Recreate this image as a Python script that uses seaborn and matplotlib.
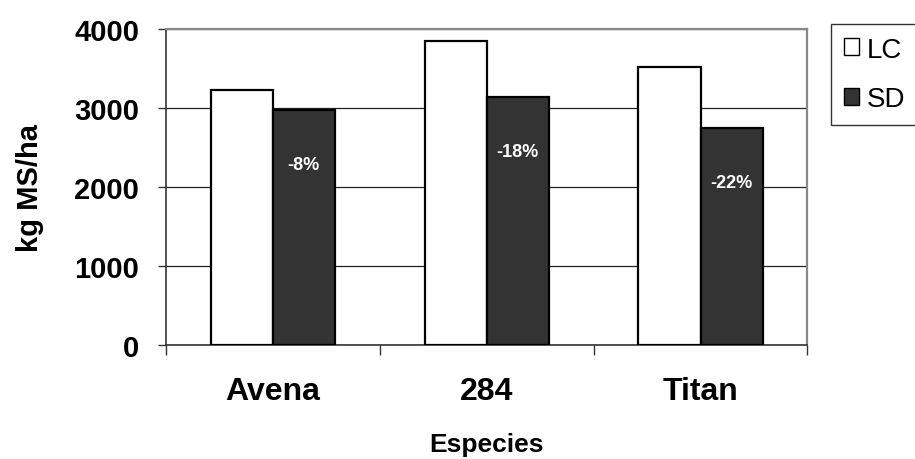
import matplotlib
matplotlib.use("Agg")
import matplotlib.pyplot as plt
import matplotlib.patches as mpatches
import seaborn as sns
import pandas as pd

# Forage dry-matter yield per species, two treatments
especies = ["Avena", "284", "Titan"]
lc_vals = [3230, 3850, 3520]
sd_vals = [2970, 3140, 2750]
diff_labels = ["-8%", "-18%", "-22%"]
treatments = ["LC", "SD"]
y_ticks = [0, 1000, 2000, 3000, 4000]

df = pd.DataFrame({
    "Especie": especies * 2,
    "kg": lc_vals + sd_vals,
    "Trat": [treatments[0]] * len(especies) + [treatments[1]] * len(especies),
})

sns.set_theme(style="white")
plt.rcParams["font.family"] = ["Liberation Sans", "DejaVu Sans"]
plt.rcParams["text.color"] = "black"
plt.rcParams["axes.labelcolor"] = "black"

fig = plt.figure(figsize=(9.15, 4.6), dpi=100)
ax = fig.add_axes([0.1811, 0.2478, 0.7014, 0.687])

colors = {"LC": "white", "SD": "#333333"}
sns.barplot(data=df, x="Especie", y="kg", hue="Trat", order=especies,
            hue_order=treatments, palette=colors, edgecolor="black",
            linewidth=1.6, width=0.58, legend=False, ax=ax, zorder=3)

ax.set_xlim(-0.5, len(especies) - 0.5)
ax.set_ylim(0, 4000)
ax.set_yticks(y_ticks)
ax.set_yticklabels([str(v) for v in y_ticks], fontsize=21, fontweight="bold")
ax.set_xticks(range(len(especies)))
ax.set_xticklabels(especies, fontsize=23, fontweight="bold")
ax.set_xticks([i - 0.5 for i in range(len(especies) + 1)], minor=True)
ax.tick_params(axis="x", which="major", length=0, pad=22, labelcolor="black")
ax.tick_params(axis="x", which="minor", length=7, width=1, color="#333333",
               direction="out", bottom=True)
ax.tick_params(axis="y", length=6, width=1, color="#333333", direction="out",
               left=True, pad=13, labelcolor="black")

ax.yaxis.grid(True, color="#222222", linewidth=0.9)
ax.xaxis.grid(False)
ax.set_axisbelow(True)

for side in ["left", "bottom"]:
    ax.spines[side].set_color("#333333")
    ax.spines[side].set_linewidth(1.2)
for side in ["top", "right"]:
    ax.spines[side].set_color("#888888")
    ax.spines[side].set_linewidth(1.6)

ax.set_ylabel("kg MS/ha", fontsize=21, fontweight="bold", labelpad=22,
              color="black")
ax.set_xlabel("Especies", fontsize=19, fontweight="bold", labelpad=19,
              color="black")

# Relative change labels inside the SD bars
offset = 0.29 / 2
for i, (val, txt) in enumerate(zip(sd_vals, diff_labels)):
    ax.text(i + offset, val - 690, txt, color="white", fontsize=13,
            fontweight="bold", ha="center", va="center", zorder=4)

handles = [mpatches.Patch(facecolor=colors[t], edgecolor="black",
                          linewidth=1.0, label=t) for t in treatments]
leg = fig.legend(handles=handles, loc="upper left",
                 bbox_to_anchor=(831 / 915, 1 - 25 / 460),
                 fontsize=20, frameon=True, fancybox=False,
                 edgecolor="black", handlelength=0.55, handleheight=0.55,
                 handletextpad=0.3, labelspacing=0.85, borderpad=0.45,
                 borderaxespad=0)
leg.get_frame().set_linewidth(1.0)

fig.savefig("out.png", dpi=100)
